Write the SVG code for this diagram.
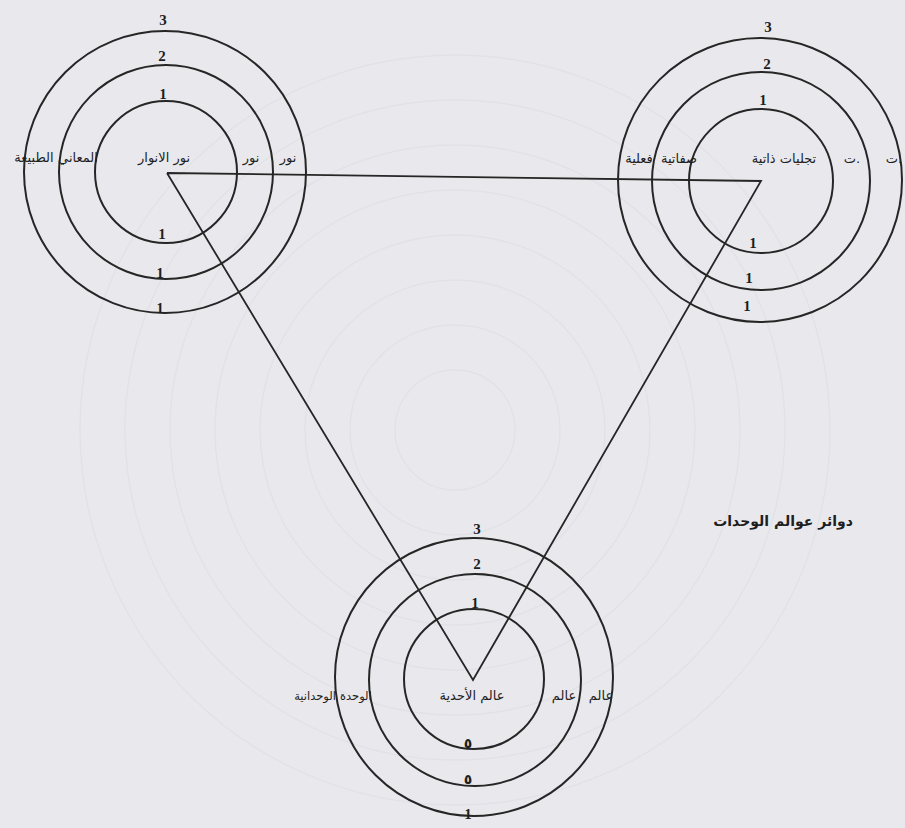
<svg xmlns="http://www.w3.org/2000/svg" width="905" height="828" viewBox="0 0 905 828">
<style>
.ring{fill:none;stroke:#262626;stroke-width:2}
.edge{fill:none;stroke:#262626;stroke-width:1.8;stroke-linejoin:miter}
.ghost{fill:none;stroke:#e1e1e7;stroke-width:1.4}
.ar{font-family:"DejaVu Sans","Noto Sans",sans-serif;font-size:13px;fill:#1e1e1e;text-anchor:middle}
.sm{font-size:11.5px}
.num{font-family:"Liberation Serif",serif;font-weight:bold;font-size:15px;fill:#1e1e1e;text-anchor:middle}
.five{font-family:"DejaVu Sans",sans-serif;font-weight:bold;font-size:14px;fill:#1e1e1e;text-anchor:middle}
.ltr{direction:ltr;unicode-bidi:bidi-override}
.title{font-family:"DejaVu Sans",sans-serif;font-weight:bold;font-size:14px;fill:#1e1e1e;text-anchor:middle}
</style>
<rect width="905" height="828" fill="#e9e9ed"/>
<g id="background">
<circle class="ghost" cx="455" cy="430" r="60"/>
<circle class="ghost" cx="455" cy="430" r="105"/>
<circle class="ghost" cx="455" cy="430" r="150"/>
<circle class="ghost" cx="455" cy="430" r="195"/>
<circle class="ghost" cx="455" cy="430" r="240"/>
<circle class="ghost" cx="455" cy="430" r="285"/>
<circle class="ghost" cx="455" cy="430" r="330"/>
<circle class="ghost" cx="455" cy="430" r="375"/>
</g>
<g id="connectors">
<polyline class="edge" points="167,173 761,181 473,680 167,173"/>
</g>
<g id="node-left">
<circle class="ring" cx="166" cy="172" r="71"/>
<circle class="ring" cx="166" cy="172" r="107"/>
<circle class="ring" cx="165" cy="172" r="141"/>
<text class="num" x="163" y="25">3</text>
<text class="num" x="162" y="61">2</text>
<text class="num" x="163" y="99">1</text>
<text class="num" x="162" y="239">1</text>
<text class="num" x="160" y="278">1</text>
<text class="num" x="160" y="313">1</text>
<text class="ar" x="288" y="162">نور</text>
<text class="ar" x="251" y="162">نور</text>
<text class="ar" x="164" y="162">نور الانوار</text>
<text class="ar" x="78" y="162">المعاني</text>
<text class="ar" x="34" y="162">الطبيعة</text>
</g>
<g id="node-right">
<circle class="ring" cx="761" cy="181" r="72"/>
<circle class="ring" cx="761" cy="181" r="109"/>
<circle class="ring" cx="760" cy="180" r="142"/>
<text class="num" x="768" y="32">3</text>
<text class="num" x="767" y="69">2</text>
<text class="num" x="763" y="105">1</text>
<text class="num" x="753" y="248">1</text>
<text class="num" x="749" y="283">1</text>
<text class="num" x="747" y="311">1</text>
<text class="ar ltr" x="894" y="163">ت.</text>
<text class="ar ltr" x="852" y="163">ت.</text>
<text class="ar" x="784" y="163">تجليات ذاتية</text>
<text class="ar" x="679" y="163">صفاتية</text>
<text class="ar" x="639" y="163">فعلية</text>
</g>
<g id="node-bottom">
<circle class="ring" cx="474" cy="679" r="70"/>
<circle class="ring" cx="475" cy="680" r="106"/>
<circle class="ring" cx="474" cy="677" r="139"/>
<text class="num" x="477" y="534">3</text>
<text class="num" x="477" y="569">2</text>
<text class="num" x="475" y="608">1</text>
<text class="five" x="468" y="748">٥</text>
<text class="five" x="468" y="784">٥</text>
<text class="num" x="468" y="819">1</text>
<text class="ar sm" x="336" y="700" style="text-anchor:end">الوحدانية</text>
<text class="ar sm" x="340" y="700" style="text-anchor:start">الوحدة</text>
<text class="ar" x="472" y="700">عالم الأحدية</text>
<text class="ar" x="564" y="700">عالم</text>
<text class="ar" x="601" y="700">عالم</text>
</g>
<g id="label-title">
<text class="title" x="783" y="526">دوائر عوالم الوحدات</text>
</g>
</svg>
